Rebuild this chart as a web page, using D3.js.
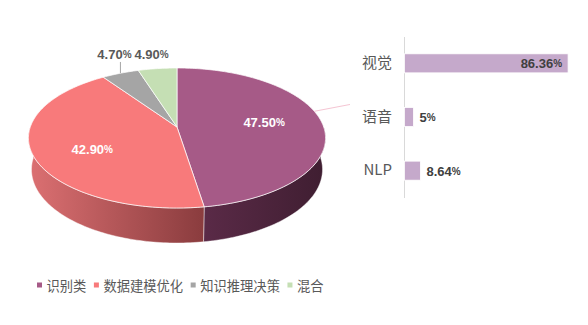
<!DOCTYPE html>
<html>
<head>
<meta charset="utf-8">
<script src="https://cdn.jsdelivr.net/npm/d3@7/dist/d3.min.js"></script>
<style>
  html, body { margin: 0; padding: 0; background: #fff; }
  svg { display: block; }
</style>
</head>
<body>
<svg id="chart" width="588" height="325"></svg>
<script>
// Pie: share of each task type
const pieCategories = ["识别类", "数据建模优化", "知识推理决策", "混合"];
const pieValues = [47.5, 42.9, 4.7, 4.9];
const pieLabels = ["47.50", "42.90", "4.70", "4.90"];
const pieColors = ["#a65a87", "#f87a7b", "#a5a5a5", "#c5dfb4"];
// side shading, left → right
const sideShades = [["#5a2a47", "#3f1e31"], ["#dc7072", "#8a3c3e"], ["#8a8a8a", "#6a6a6a"], ["#a8c49a", "#8fae82"]];

// Bars: share by field
const barCategories = ["视觉", "语音", "NLP"];
const barValues = [86.36, 5, 8.64];
const barLabels = ["86.36", "5", "8.64"];
const barColor = "#c5a9cb";

const svg = d3.select("#chart");
const defs = svg.append("defs");
const numFont = "'Liberation Sans', Arial, sans-serif";
const cjkFont = "'Noto Sans CJK SC', 'Noto Sans', sans-serif";

// ---- 3D perspective pie ----
const cx = 177, cy = 127;
const D = 5.637, F = 827, sinPhi = 0.4655, cosPhi = Math.sqrt(1 - sinPhi * sinPhi);
const depthH = 0.2453;

function project(theta, rf, z) {
  const X = rf * Math.sin(theta), Y = rf * Math.cos(theta);
  const yc = Y * sinPhi + z * cosPhi;
  const dep = D + Y * cosPhi - z * sinPhi;
  return [cx + F * X / dep, cy - F * yc / dep];
}

const arcs = d3.pie().sort(null).startAngle(0).endAngle(2 * Math.PI)(pieValues);

function arcPoints(a0, a1, rf, z) {
  const n = Math.max(2, Math.ceil((a1 - a0) / 0.02));
  return d3.range(n + 1).map(i => project(a0 + (a1 - a0) * i / n, rf, z));
}

const line = d3.line();

// side faces (front half only, drawn before the top)
const sideG = svg.append("g");
arcs.forEach((a, i) => {
  const s = Math.max(a.startAngle, Math.PI / 2);
  const e = Math.min(a.endAngle, 3 * Math.PI / 2);
  if (e <= s) return;
  const top = arcPoints(s, e, 1, 0);
  const bot = arcPoints(s, e, 1, -depthH).reverse();
  const xs = top.map(p => p[0]);
  const gid = "side" + i;
  const g = defs.append("linearGradient").attr("id", gid)
    .attr("gradientUnits", "userSpaceOnUse")
    .attr("x1", d3.min(xs)).attr("x2", d3.max(xs)).attr("y1", 0).attr("y2", 0);
  g.append("stop").attr("offset", 0).attr("stop-color", sideShades[i][0]);
  g.append("stop").attr("offset", 1).attr("stop-color", sideShades[i][1]);
  sideG.append("path")
    .attr("d", line(top.concat(bot)) + "Z")
    .attr("fill", `url(#${gid})`)
    .attr("stroke", "#ffffff").attr("stroke-opacity", 0.55).attr("stroke-width", 0.8)
    .attr("stroke-linejoin", "round");
});

// top faces
const topG = svg.append("g");
arcs.forEach((a, i) => {
  const pts = [[cx, cy]].concat(arcPoints(a.startAngle, a.endAngle, 1, 0));
  topG.append("path")
    .attr("d", line(pts) + "Z")
    .attr("fill", pieColors[i])
    .attr("stroke", "#ffffff").attr("stroke-opacity", 0.8).attr("stroke-width", 0.9)
    .attr("stroke-linejoin", "round");
});

// value labels
function pctText(sel, num, pctSize) {
  sel.append("tspan").text(num);
  sel.append("tspan").attr("font-size", pctSize).text("%");
}
const labelG = svg.append("g").attr("font-family", numFont).attr("font-weight", "bold");
const topY = project(0, 1, 0)[1];
arcs.forEach((a, i) => {
  const mid = (a.startAngle + a.endAngle) / 2;
  const frac = (a.endAngle - a.startAngle) / (2 * Math.PI);
  if (frac > 0.1) {
    const p = project(mid, 0.6, 0);
    const t = labelG.append("text")
      .attr("x", p[0]).attr("y", p[1] + (Math.cos(mid) < 0 ? 6 : -2))
      .attr("text-anchor", "middle").attr("dominant-baseline", "central")
      .attr("font-size", 13).attr("fill", "#ffffff");
    pctText(t, pieLabels[i], 10);
  } else {
    const p = project(mid, 1, 0);
    const ly = topY - 14;
    if (p[1] - (ly + 7) > 8) {
      svg.append("line")
        .attr("x1", p[0]).attr("x2", p[0])
        .attr("y1", p[1]).attr("y2", ly + 8)
        .attr("stroke", "#a6a6a6").attr("stroke-width", 1);
    }
    const t = labelG.append("text")
      .attr("x", p[0] - 6).attr("y", ly)
      .attr("text-anchor", "middle").attr("dominant-baseline", "central")
      .attr("font-size", 13).attr("fill", "#595959");
    pctText(t, pieLabels[i], 10);
  }
});

// ---- Bar chart ----
const x = d3.scaleLinear().domain([0, 90]).range([404, 575]);
const y = d3.scaleBand().domain(barCategories).range([36.5, 197.5])
  .paddingInner(0.645).paddingOuter(0.3225);

// link line from the pie to the bars
const linkStart = project(1.33, 1, 0);
svg.append("line")
  .attr("x1", linkStart[0]).attr("y1", linkStart[1])
  .attr("x2", x(0) - 54).attr("y2", y("语音") - 3)
  .attr("stroke", "#f5c5d3").attr("stroke-width", 1);

const yAxis = svg.append("g")
  .attr("transform", `translate(${x(0)},0)`)
  .call(d3.axisLeft(y).tickSize(0).tickPadding(12));
yAxis.select(".domain").attr("stroke", "#d9d9d9");
yAxis.selectAll("text")
  .attr("font-family", cjkFont).attr("font-size", 15).attr("fill", "#595959");

svg.append("g").selectAll("rect")
  .data(barValues).join("rect")
  .attr("x", x(0) + 0.5)
  .attr("y", (d, i) => y(barCategories[i]))
  .attr("width", d => x(d) - x(0) - 0.5)
  .attr("height", y.bandwidth())
  .attr("fill", barColor)
  .attr("stroke", "#ffffff").attr("stroke-width", 0.8);

const barLabelG = svg.append("g").attr("font-family", numFont).attr("font-weight", "bold");
barValues.forEach((v, i) => {
  const inside = x(v) - x(0) > 60;
  const t = barLabelG.append("text")
    .attr("x", inside ? x(v) - 6 : x(v) + 6)
    .attr("y", y(barCategories[i]) + y.bandwidth() / 2)
    .attr("text-anchor", inside ? "end" : "start")
    .attr("dominant-baseline", "central")
    .attr("font-size", 13).attr("fill", "#404040");
  pctText(t, barLabels[i], 10);
});

// ---- Legend ----
const legend = svg.append("g").attr("transform", "translate(37,285)");
let lx = 0;
pieCategories.forEach((c, i) => {
  const item = legend.append("g").attr("transform", `translate(${lx},0)`);
  item.append("rect").attr("x", 0).attr("y", -2.5).attr("width", 5).attr("height", 5)
    .attr("fill", pieColors[i]);
  const t = item.append("text").attr("x", 9.5).attr("y", 0)
    .attr("dominant-baseline", "central")
    .attr("font-family", cjkFont).attr("font-size", 13.3).attr("fill", "#595959")
    .text(c);
  lx += 9.5 + t.node().getComputedTextLength() + 7.5;
});
</script>
</body>
</html>
